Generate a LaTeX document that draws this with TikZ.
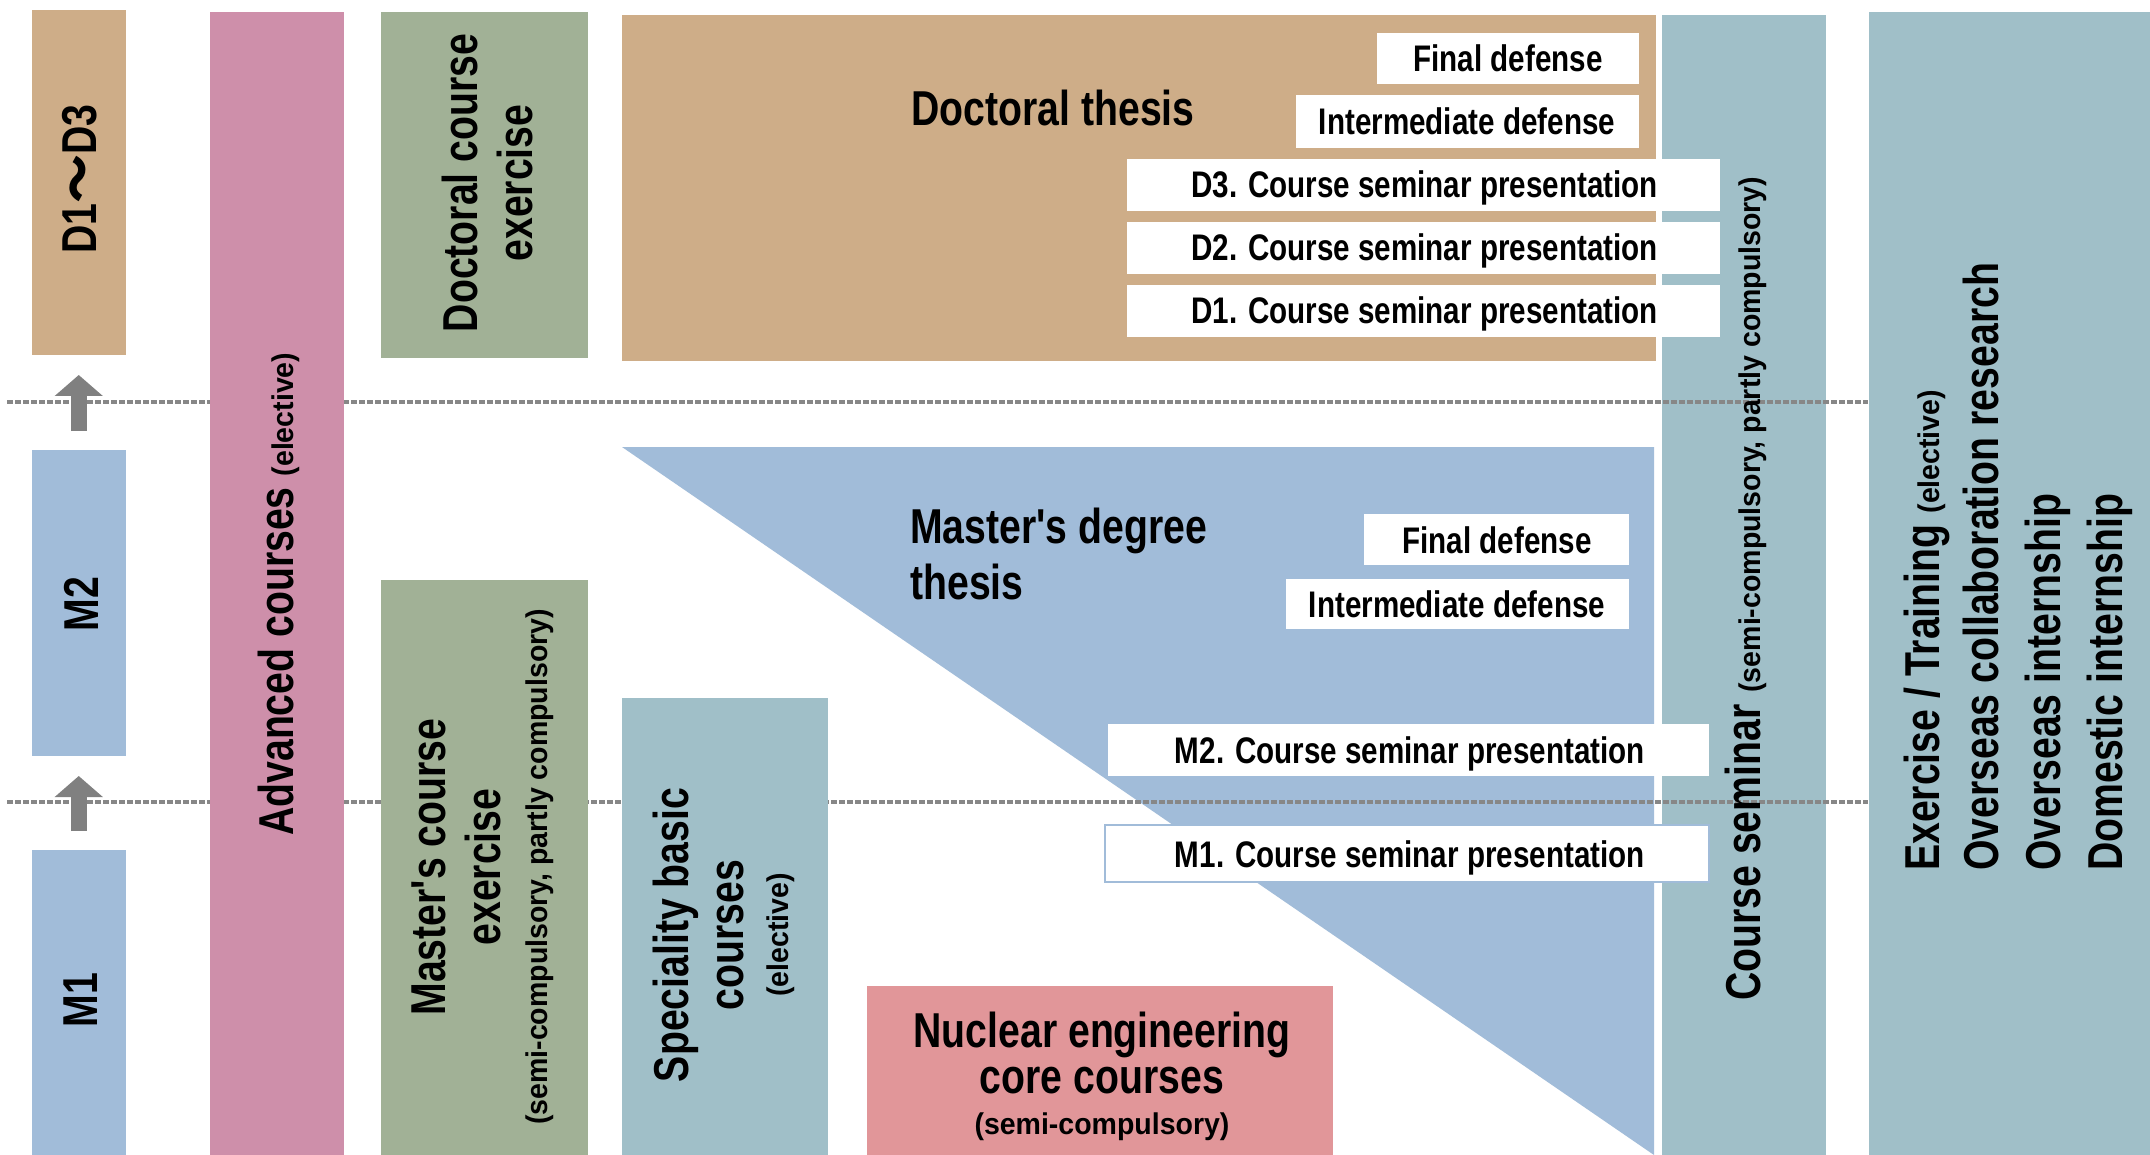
\documentclass[tikz,border=0pt]{standalone}
\usepackage{fontspec}
\usetikzlibrary{fit,arrows.meta}
\newfontfamily\condf{Liberation Sans}[FakeStretch=0.8]
\newfontfamily\condsf{Liberation Sans}[FakeStretch=0.95]
\newfontfamily\cjkf{Noto Sans CJK JP}
\definecolor{tanC}{RGB}{206,173,136}
\definecolor{pinkC}{RGB}{206,143,170}
\definecolor{greenC}{RGB}{161,177,150}
\definecolor{blueC}{RGB}{161,188,217}
\definecolor{tealC}{RGB}{160,191,200}
\definecolor{nucC}{RGB}{225,150,153}
\definecolor{arrC}{RGB}{128,128,128}
\definecolor{sepC}{RGB}{135,135,135}
\newcommand\fBig{\condf\bfseries\fontsize{49}{55}\selectfont}
\newcommand\fMid{\condf\bfseries\fontsize{37}{42}\selectfont}
\newcommand\fSm{\condsf\bfseries\fontsize{30}{34}\selectfont}
\begin{document}
\begin{tikzpicture}[x=1pt,y=-1pt,
  rect/.style={inner sep=0pt,outer sep=0pt},
  wbox/.style={rect,fill=white},
  sepline/.style={draw=sepC,line width=4.5pt,dash pattern=on 6pt off 2pt},
  yeararrow/.style={draw=arrC,line width=16pt,-{Triangle[length=21pt,width=47pt]},shorten <=19pt,shorten >=20pt},
  tbig/.style={font=\fBig,inner sep=0pt},
  tmid/.style={font=\fMid,inner sep=0pt},
  tsmall/.style={font=\fSm,inner sep=0pt},
  vtext/.style={rotate=90},
]
\useasboundingbox (0,0) rectangle (2150,1155);
\fill[white] (0,0) rectangle (2150,1155);

% background columns
\node[rect,fill=tealC,fit={(1662,15) (1826,1155)}] (csem) {};
\node[rect,fill=tealC,fit={(1869,12) (2150,1155)}] (ext) {};
\node[rect,fill=tanC,fit={(622,15) (1656,361)}] (dth) {};
\fill[blueC] (622,447) -- (1654,447) -- (1654,1155) -- cycle;

% separator lines
\coordinate (l1a) at (7,402);  \coordinate (l1b) at (1868,402);
\coordinate (l2a) at (7,802);  \coordinate (l2b) at (1868,802);
\draw[sepline] (l1a) -- (l1b);
\draw[sepline] (l2a) -- (l2b);

% year boxes
\node[rect,fill=tanC,fit={(31.5,10) (126,355)}] (yd) {};
\node[rect,fill=blueC,fit={(31.5,450) (126,756)}] (ym2) {};
\node[rect,fill=blueC,fit={(31.5,850) (126,1155)}] (ym1) {};
\draw[yeararrow] (ym1.north) -- (ym2.south);
\draw[yeararrow] (ym2.north) -- (yd.south);

% course columns
\node[rect,fill=pinkC,fit={(210,12) (344,1155)}] (adv) {};
\node[rect,fill=greenC,fit={(381,12) (588,358)}] (dce) {};
\node[rect,fill=greenC,fit={(381,580) (588,1155)}] (mce) {};
\node[rect,fill=tealC,fit={(622,698) (828,1155)}] (spb) {};
\node[rect,fill=nucC,fit={(867,986) (1333,1155)}] (nuc) {};

% white boxes
\node[wbox,fit={(1377,33) (1639,84)}] (dfin) {};
\node[wbox,fit={(1296,95) (1639,148)}] (dint) {};
\node[wbox,fit={(1127,159) (1720,211)}] (d3) {};
\node[wbox,fit={(1127,222) (1720,274)}] (d2) {};
\node[wbox,fit={(1127,285) (1720,337)}] (d1) {};
\node[wbox,fit={(1364,514) (1629,565)}] (mfin) {};
\node[wbox,fit={(1286,579) (1629,629)}] (mint) {};
\node[wbox,fit={(1108,724) (1709,776)}] (m2s) {};
\node[wbox,draw=blueC,line width=1.5pt,fit={(1105,825) (1709,882)}] (m1s) {};

% texts: year column
\node[tbig,vtext] (tyd) at (80,179) {D1{\cjkf ～}D3};
\node[tbig,vtext] (tym2) at (81,604) {M2};
\node[tbig,vtext] (tym1) at (81,1000) {M1};

% texts: course columns
\node[tbig,vtext,anchor=base west] (tadv) at (293,836) {Advanced courses {\fSm (elective)}};
\node[tbig,vtext,align=center] (tdce) at (487,183) {Doctoral course\\exercise};
\node[tbig,vtext,align=center] (tmce) at (483,867) {Master's course\\exercise\\[-8pt]{\fSm (semi-compulsory, partly compulsory)}};
\node[tbig,vtext,align=center] (tspb) at (724,935) {Speciality basic\\courses\\[-10pt]{\fSm (elective)}};
\node[tbig,anchor=base] (tnuc1) at (1102,1047) {Nuclear engineering};
\node[tbig,anchor=base] (tnuc2) at (1102,1093) {core courses};
\node[tsmall,anchor=base] (tnuc3) at (1102,1134) {(semi-compulsory)};

% theses
\node[tbig,anchor=base] (tdth) at (1053,126) {Doctoral thesis};
\node[tbig,anchor=base west,align=left,font=\condf\bfseries\fontsize{49}{56}\selectfont] (tmth) at (910,599) {Master's degree\\thesis};

% box texts
\node[tmid,anchor=base] at (1508,72) {Final defense};
\node[tmid,anchor=base] at (1467,135) {Intermediate defense};
\node[tmid,anchor=base east] at (1658,198) {D3. Course seminar presentation};
\node[tmid,anchor=base east] at (1658,261) {D2. Course seminar presentation};
\node[tmid,anchor=base east] at (1658,324) {D1. Course seminar presentation};
\node[tmid,anchor=base] at (1497,553) {Final defense};
\node[tmid,anchor=base] at (1457,617) {Intermediate defense};
\node[tmid,anchor=base east] at (1645,763) {M2. Course seminar presentation};
\node[tmid,anchor=base east] at (1645,867) {M1. Course seminar presentation};

% course seminar column
\node[tbig,vtext,anchor=base west] (tcsem) at (1760,1001) {Course seminar\hspace{12pt}{\fSm (semi-compulsory, partly compulsory)}};

% exercise column
\node[tbig,vtext,anchor=base west] (te1) at (1939,871) {Exercise / Training {\fSm (elective)}};
\node[tbig,vtext,anchor=base west] (te2) at (1998,871) {Overseas collaboration research};
\node[tbig,vtext,anchor=base west] (te3) at (2060,871) {Overseas internship};
\node[tbig,vtext,anchor=base west] (te4) at (2122,871) {Domestic internship};
\end{tikzpicture}
\end{document}
